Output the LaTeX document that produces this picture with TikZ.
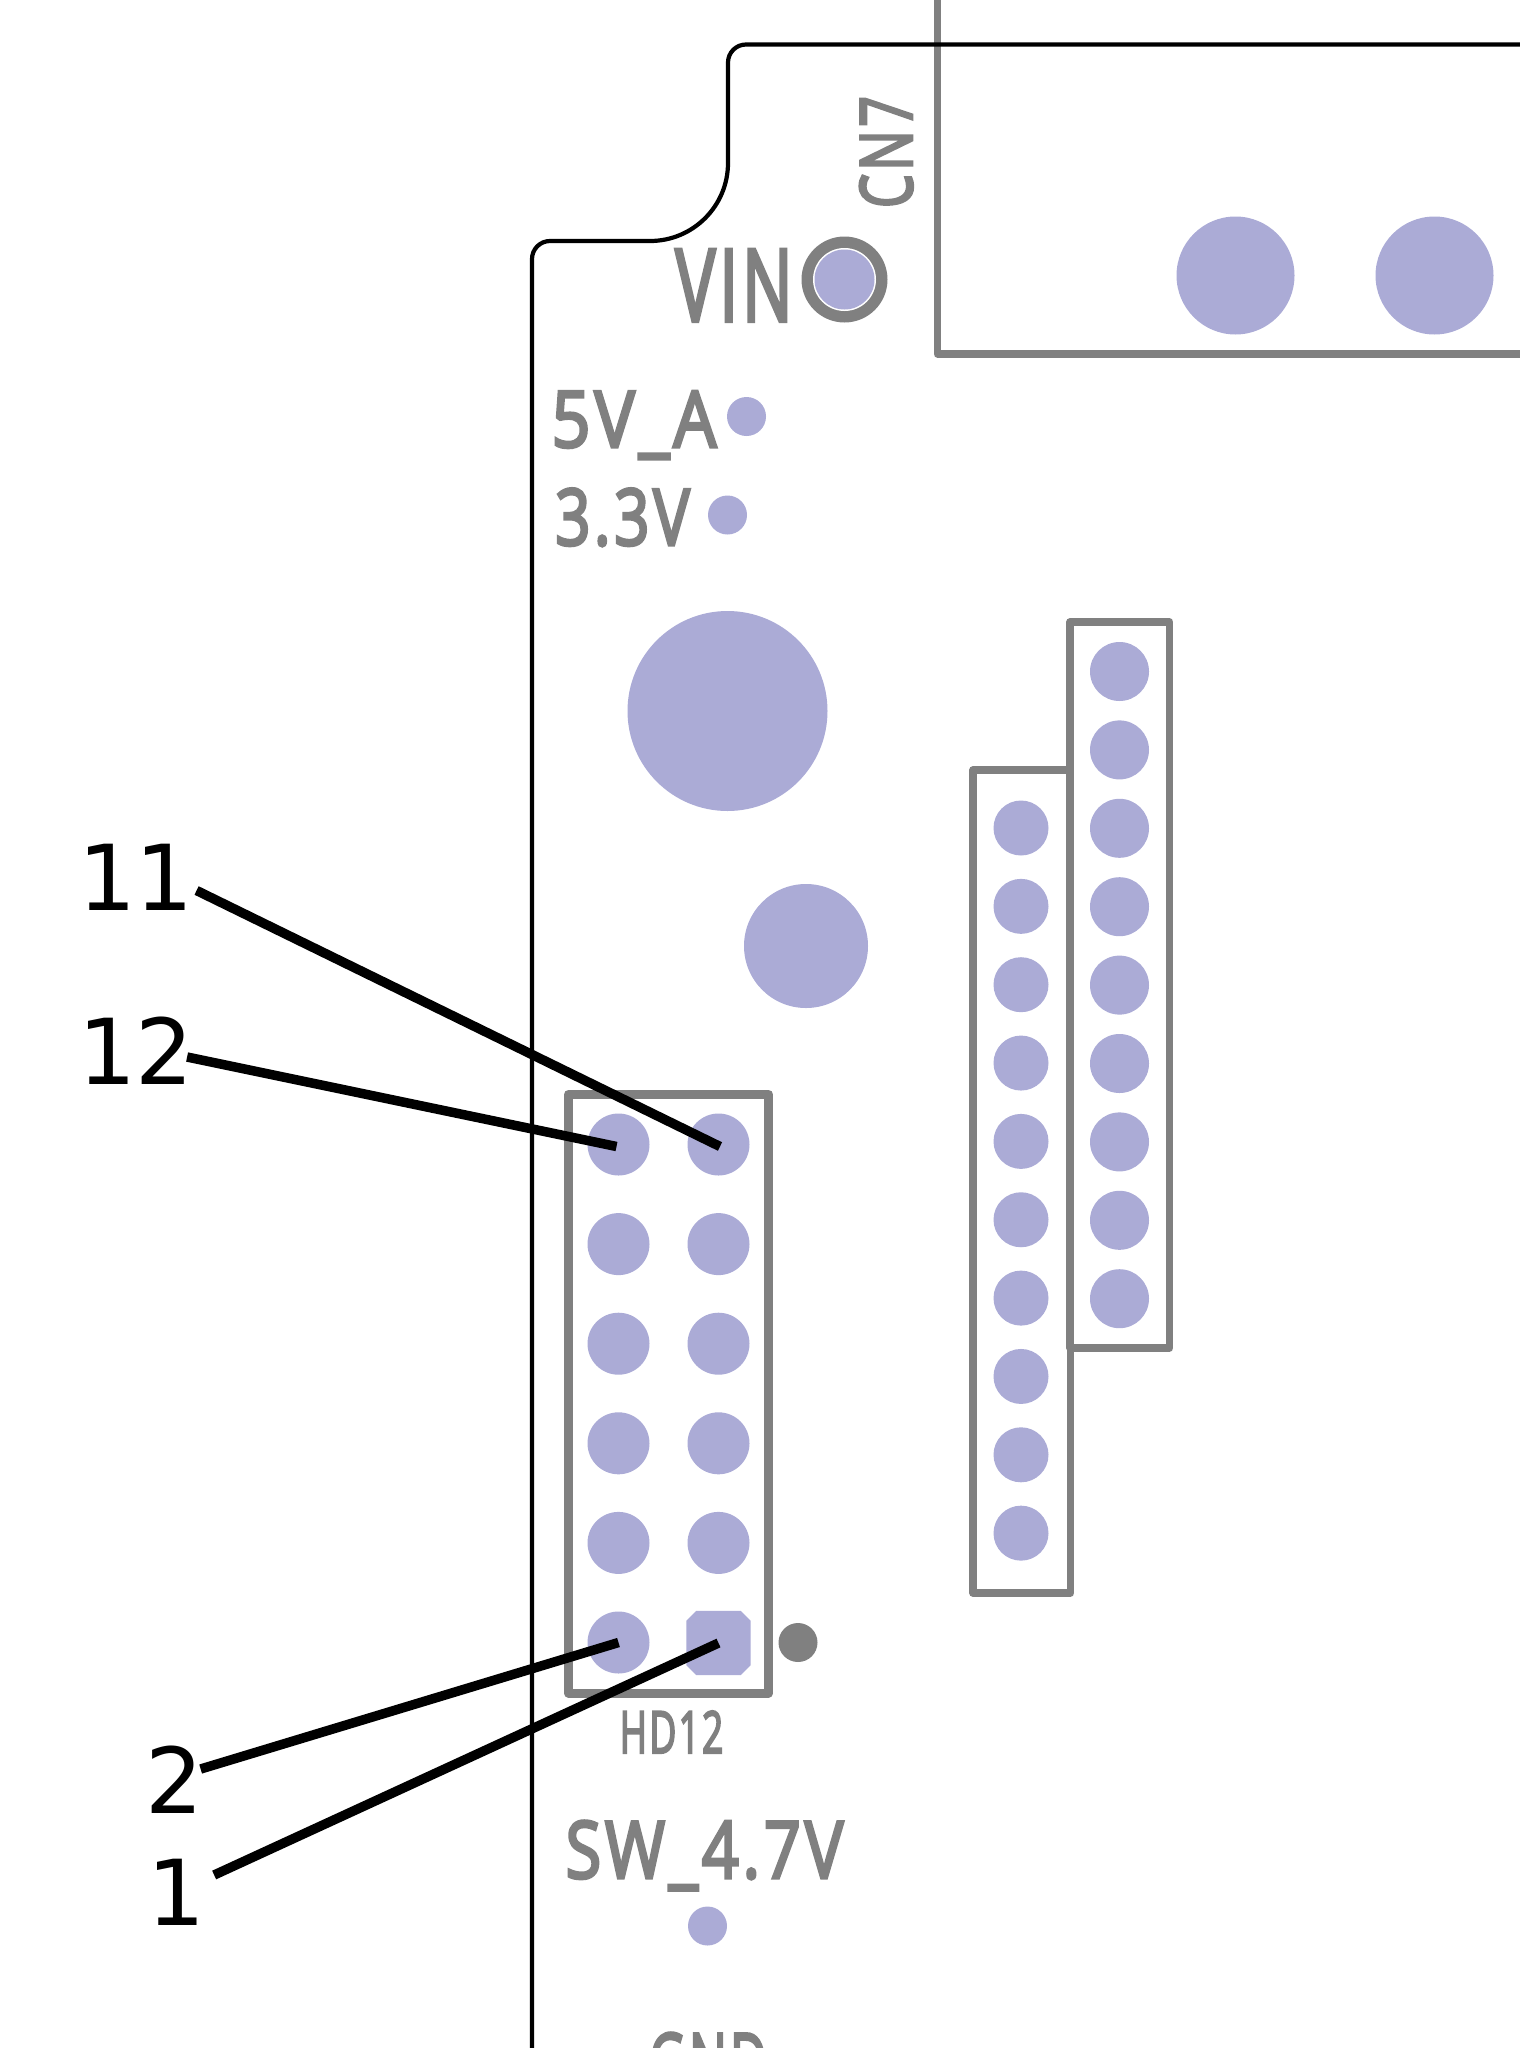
\documentclass[tikz,border=0pt]{standalone}
\usepackage{fontspec}
\newfontfamily\calloutfont{DejaVu Sans}
\newfontfamily\silkfont[FakeBold=4,LetterSpace=6]{Open Sans}
\definecolor{padblue}{HTML}{ABABD6}
\definecolor{silkgray}{HTML}{808080}
\newcommand{\silk}[3]{\scalebox{#2}[1]{\fontsize{#1}{#1}\selectfont\silkfont #3}}
\tikzset{
  padround/.style={circle, fill=padblue, inner sep=0pt, minimum size=#1},
  padkeep/.style={rectangle, draw=silkgray, line width=#1, line join=round, inner sep=0pt},
  silktext/.style={text=silkgray, inner sep=0pt, anchor=base},
  calloutnum/.style={inner sep=0pt, font=\calloutfont\fontsize{91}{91}\selectfont},
  calloutline/.style={draw=black, line width=9.5pt},
  boardedge/.style={draw=black, line width=4.2pt}
}
\begin{document}
\begin{tikzpicture}[x=1pt,y=-1pt]
\useasboundingbox (0,0) rectangle (1520,2048);
% connector bodies
\draw[silkgray, line width=7.3pt, line join=round] (937.5,0) -- (937.5,354) -- (1520,354); % CN7
\node[padkeep=7.3pt, minimum width=99.5pt, minimum height=726pt] (boxright) at (1119.75,985) {};
\node[padkeep=7.3pt, minimum width=97.5pt, minimum height=823pt] (boxleft) at (1021.75,1181.5) {};
\node[padkeep=9pt, minimum width=200pt, minimum height=598.5pt] (boxhd) at (668.5,1393.75) {};
% board edge
\draw[boardedge] (1520,44.5) -- (746,44.5) arc[start angle=270, end angle=180, radius=18]
  -- (728,163) arc[start angle=0, end angle=90, radius=78]
  -- (550,241) arc[start angle=270, end angle=180, radius=18] -- (532,2048);
% large pads
\node[padround=118pt] (cnA) at (1235.5,275.5) {};
\node[padround=118pt] (cnB) at (1434.5,275.5) {};
\node[padround=200pt] (holeA) at (727.5,711) {};
\node[padround=124pt] (holeB) at (806,946) {};
% VIN ring
\node[circle, fill=silkgray, inner sep=0pt, minimum size=86pt] (vinring) at (844.5,279.5) {};
\node[circle, fill=white, inner sep=0pt, minimum size=63pt] (vingap) at (vinring) {};
\node[padround=60pt] (vinpad) at (vinring) {};
% test points
\node[padround=39pt] (tpfive) at (746.5,416.5) {};
\node[padround=39pt] (tpthree) at (727.5,515) {};
\node[padround=39pt] (tpsw) at (707.5,1926) {};
\node[circle, fill=silkgray, inner sep=0pt, minimum size=39pt] (pinone) at (798,1642.5) {};
% header rows
\foreach \i in {0,...,8}
  \node[padround=59pt] (r\i) at (1119.5,671.5+78.4*\i) {};
\foreach \i in {0,...,9}
  \node[padround=55pt] (l\i) at (1021,828+78.35*\i) {};
\foreach \i in {1,...,5}{
  \node[padround=62pt] (ha\i) at (618.5,1144.5+99.6*\i-99.6) {};
  \node[padround=62pt] (hb\i) at (718.5,1144.5+99.6*\i-99.6) {};
}
\node[padround=62pt] (ha6) at (618.5,1642.5) {};
\node[rectangle, inner sep=0pt, minimum width=64pt, minimum height=64pt] (hb6) at (718.5,1643) {}; % pin 1
\fill[padblue] ([xshift=10pt]hb6.north west) -- ([xshift=-10pt]hb6.north east) -- ([yshift=-10pt]hb6.north east)
  -- ([yshift=10pt]hb6.south east) -- ([xshift=-10pt]hb6.south east) -- ([xshift=10pt]hb6.south west)
  -- ([yshift=10pt]hb6.south west) -- ([yshift=-10pt]hb6.north west) -- cycle;
% silk labels
\node[silktext] (silkvin) at (734,321) {\silk{100}{.67}{VIN}};
\node[silktext] (silkfive) at (634,447) {\silk{78}{.87}{5V\_A}};
\node[silktext] (silkthree) at (622.5,545) {\silk{78}{.79}{3.3V}};
\node[silktext, rotate=90] (silkcn) at (912,152) {\silk{72}{.75}{CN7}};
\node[silktext] (silkhd) at (671.5,1753) {\silk{58}{.64}{HD12}};
\node[silktext] (silksw) at (704.5,1878) {\silk{79}{.82}{SW\_4.7V}};
\node[silktext] (silkgnd) at (708,2090) {\silk{79}{.64}{GND}};
% callouts
\node[calloutnum] (numeleven) at (136,877.5) {11};
\node[calloutnum] (numtwelve) at (136,1051) {12};
\node[calloutnum] (numtwo) at (174.5,1780) {2};
\node[calloutnum] (numone) at (176,1892) {1};
\draw[calloutline] ([shift={(2.5,13)}]numeleven.east) -- ([shift={(1.5,2)}]hb1.center);
\draw[calloutline] ([shift={(-7,6)}]numtwelve.east) -- ([shift={(-2,2)}]ha1.center);
\draw[calloutline] ([shift={(-3,-11)}]numtwo.east) -- (ha6.center);
\draw[calloutline] ([shift={(9,-17)}]numone.east) -- (hb6.center);
\end{tikzpicture}
\end{document}
